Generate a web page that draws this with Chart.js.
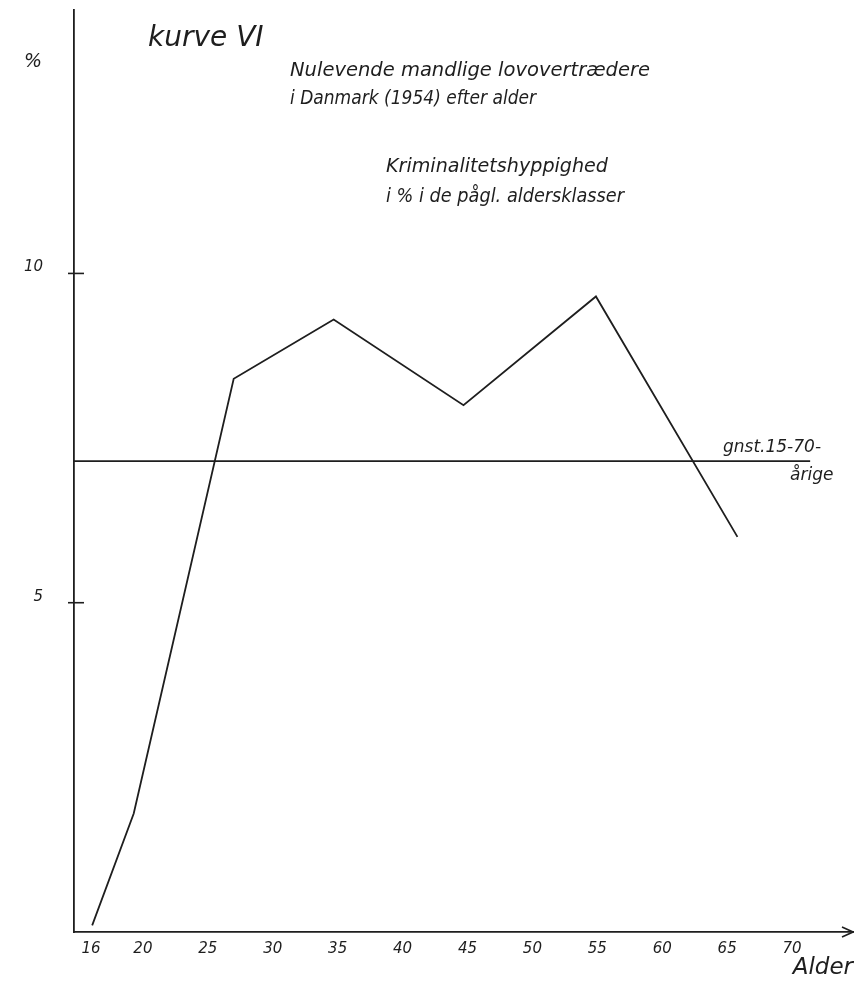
<!DOCTYPE html>
<html lang="da">
<head>
    <meta charset="UTF-8">
    <title>Kurve VI</title>
    <script src="https://cdn.jsdelivr.net/npm/chart.js"></script>
    <style>
        body { margin: 0; background: #fff; }
        canvas { display: block; }
    </style>
</head>
<body>
    <canvas id="kurve" width="854" height="982"></canvas>

    <script>
        // Alder (midtpunkt af aldersklasse) og kriminalitetshyppighed i %
        const ages = [16.4, 19.6, 27.3, 35, 45, 55.2, 66.1];
        const percents = [0.1, 1.8, 8.4, 9.3, 8.0, 9.65, 6.0];

        // gennemsnit for 15-70-årige
        const avgAges = [15, 71.7];
        const avgValue = 7.15;

        const xTicks = [16, 20, 25, 30, 35, 40, 45, 50, 55, 60, 65, 70];
        const yTicks = [5, 10];

        const ink = '#1e1e1e';
        const hand = "'DejaVu Sans', sans-serif";

        // tekst, pil og krydsende tick-streger
        const notes = {
            id: 'notes',
            afterDraw(chart) {
                const ctx = chart.ctx;
                const area = chart.chartArea;
                const y = chart.scales.y;
                ctx.save();
                ctx.strokeStyle = ink;
                ctx.lineWidth = 1.6;

                // tick-streger på y-aksen
                yTicks.forEach(v => {
                    const py = y.getPixelForValue(v);
                    ctx.beginPath();
                    ctx.moveTo(area.left - 6, py);
                    ctx.lineTo(area.left + 10, py);
                    ctx.stroke();
                });

                // pil på x-aksen
                ctx.beginPath();
                ctx.moveTo(area.right - 11, area.bottom - 5);
                ctx.lineTo(area.right, area.bottom);
                ctx.lineTo(area.right - 11, area.bottom + 5);
                ctx.stroke();

                ctx.fillStyle = ink;
                ctx.textAlign = 'left';
                ctx.textBaseline = 'alphabetic';

                ctx.font = 'italic 19px ' + hand;
                ctx.fillText('%', 24, 67);

                ctx.font = 'italic 28px ' + hand;
                ctx.fillText('kurve VI', 148, 46, 122);

                ctx.font = 'italic 20px ' + hand;
                ctx.fillText('Nulevende mandlige lovovertrædere', 290, 76, 360);
                ctx.fillText('i Danmark (1954) efter alder', 290, 104, 246);
                ctx.fillText('Kriminalitetshyppighed', 386, 172, 222);
                ctx.fillText('i % i de pågl. aldersklasser', 386, 202, 238);

                ctx.font = 'italic 17px ' + hand;
                ctx.fillText('gnst.15-70-', 723, 452, 108);
                ctx.fillText('årige', 790, 480, 56);
                ctx.restore();
            }
        };

        new Chart(document.getElementById('kurve'), {
            type: 'line',
            data: {
                datasets: [
                    {
                        label: 'Kriminalitetshyppighed',
                        data: ages.map((a, i) => ({ x: a, y: percents[i] })),
                        borderColor: ink,
                        borderWidth: 1.8,
                        pointRadius: 0,
                        tension: 0,
                        fill: false
                    },
                    {
                        label: 'gnst. 15-70-årige',
                        data: avgAges.map(a => ({ x: a, y: avgValue })),
                        borderColor: ink,
                        borderWidth: 1.6,
                        pointRadius: 0,
                        fill: false
                    }
                ]
            },
            options: {
                responsive: false,
                devicePixelRatio: 1,
                animation: false,
                layout: { autoPadding: false, padding: { left: 0, right: 1, top: 10, bottom: 0 } },
                plugins: {
                    legend: { display: false },
                    tooltip: { enabled: false }
                },
                scales: {
                    x: {
                        type: 'linear',
                        min: 15,
                        max: 75,
                        afterBuildTicks: s => { s.ticks = xTicks.map(v => ({ value: v })); },
                        afterFit: s => { s.height = 50; s.paddingLeft = 0; s.paddingRight = 0; },
                        grid: { display: false },
                        border: { display: true, color: ink, width: 1.8 },
                        ticks: {
                            color: ink,
                            padding: 0,
                            labelOffset: 4,
                            maxRotation: 0,
                            autoSkip: false,
                            font: { family: hand, style: 'italic', size: 15 }
                        },
                        title: {
                            display: true,
                            text: 'Alder',
                            align: 'end',
                            color: ink,
                            padding: { top: 0, bottom: 0 },
                            font: { family: hand, style: 'italic', size: 23 }
                        }
                    },
                    y: {
                        min: 0,
                        max: 14,
                        afterBuildTicks: s => { s.ticks = yTicks.map(v => ({ value: v })); },
                        afterFit: s => { s.width = 74; s.paddingTop = 0; s.paddingBottom = 0; },
                        grid: { display: false },
                        border: { display: true, color: ink, width: 1.8 },
                        ticks: {
                            color: ink,
                            padding: 23,
                            labelOffset: -6,
                            font: { family: hand, style: 'italic', size: 15 }
                        }
                    }
                }
            },
            plugins: [notes]
        });
    </script>
</body>
</html>
